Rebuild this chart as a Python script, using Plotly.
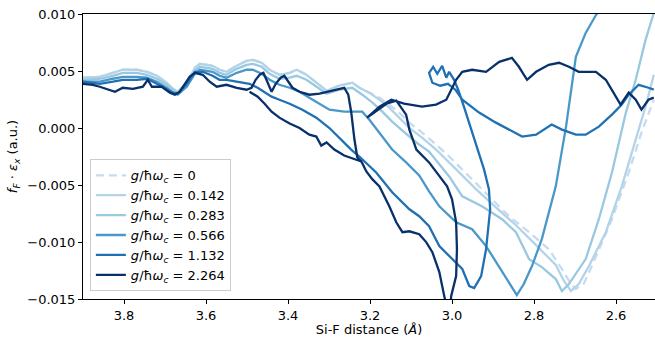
import plotly.graph_objects as go

labels = ["0", "0.142", "0.283", "0.566", "1.132", "2.264"]
colors = ["#c6dbef", "#b3d3e8", "#9ac8e0", "#4a98c9", "#2070b4", "#08306b"]

# g = 0 (dashed)
x_g0 = [3.900, 3.859, 3.827, 3.803, 3.769, 3.744, 3.720, 3.696, 3.681, 3.669, 3.647, 3.627, 3.615, 3.584, 3.567,
        3.550, 3.525, 3.501, 3.486, 3.464, 3.445, 3.421, 3.396, 3.379, 3.355, 3.323, 3.306, 3.275, 3.243, 3.226,
        3.202, 3.177, 3.153, 3.129, 3.104, 3.073, 3.039, 3.007, 2.958, 2.910, 2.861, 2.812, 2.764, 2.732, 2.710,
        2.698, 2.679, 2.659, 2.610, 2.569, 2.538, 2.508]
y_g0 = [0.00442, 0.00450, 0.00484, 0.00512, 0.00512, 0.00494, 0.00458, 0.00397, 0.00344, 0.00318, 0.00397, 0.00528,
        0.00563, 0.00546, 0.00511, 0.00493, 0.00546, 0.00589, 0.00598, 0.00572, 0.00511, 0.00467, 0.00484, 0.00511,
        0.00467, 0.00379, 0.00327, 0.00371, 0.00397, 0.00353, 0.00310, 0.00266, 0.00205, 0.00135, 0.00047, -0.00040,
        -0.00145, -0.00250, -0.00425, -0.00599, -0.00774, -0.00914, -0.01063, -0.01237, -0.01369, -0.01412, -0.01369,
        -0.01211, -0.00800, -0.00390, -0.00040, 0.00248]

# g = 0.142
x_g1 = [3.900, 3.859, 3.827, 3.803, 3.769, 3.744, 3.720, 3.696, 3.681, 3.669, 3.647, 3.627, 3.615, 3.584, 3.567,
        3.550, 3.525, 3.501, 3.486, 3.464, 3.445, 3.421, 3.396, 3.379, 3.355, 3.323, 3.306, 3.275, 3.243, 3.226,
        3.202, 3.177, 3.153, 3.129, 3.104, 3.073, 3.039, 2.990, 2.941, 2.893, 2.844, 2.795, 2.747, 2.727, 2.710,
        2.691, 2.666, 2.625, 2.586, 2.552, 2.528, 2.508]
y_g1 = [0.00441, 0.00449, 0.00484, 0.00511, 0.00511, 0.00493, 0.00458, 0.00397, 0.00344, 0.00318, 0.00397, 0.00528,
        0.00563, 0.00546, 0.00511, 0.00493, 0.00546, 0.00589, 0.00598, 0.00572, 0.00511, 0.00467, 0.00484, 0.00511,
        0.00467, 0.00379, 0.00327, 0.00371, 0.00397, 0.00353, 0.00310, 0.00248, 0.00178, 0.00091, 0.00000, -0.00084,
        -0.00189, -0.00363, -0.00538, -0.00696, -0.00853, -0.01028, -0.01202, -0.01342, -0.01430, -0.01369, -0.01211,
        -0.00914, -0.00512, -0.00101, 0.00187, 0.00467]

# g = 0.283
x_g2 = [3.900, 3.859, 3.827, 3.803, 3.769, 3.744, 3.720, 3.696, 3.681, 3.669, 3.647, 3.627, 3.615, 3.584, 3.567,
        3.550, 3.525, 3.501, 3.486, 3.464, 3.445, 3.421, 3.396, 3.379, 3.355, 3.323, 3.306, 3.275, 3.243, 3.219,
        3.194, 3.170, 3.146, 3.121, 3.087, 3.056, 3.007, 2.975, 2.927, 2.878, 2.844, 2.812, 2.781, 2.747, 2.732,
        2.715, 2.674, 2.642, 2.610, 2.576, 2.552, 2.528, 2.508]
y_g2 = [0.00423, 0.00432, 0.00458, 0.00484, 0.00484, 0.00467, 0.00432, 0.00379, 0.00336, 0.00310, 0.00379, 0.00502,
        0.00537, 0.00519, 0.00484, 0.00467, 0.00519, 0.00554, 0.00563, 0.00537, 0.00476, 0.00432, 0.00441, 0.00458,
        0.00423, 0.00344, 0.00301, 0.00336, 0.00353, 0.00292, 0.00222, 0.00143, 0.00056, -0.00023, -0.00127, -0.00206,
        -0.00425, -0.00599, -0.00687, -0.00800, -0.00914, -0.01150, -0.01220, -0.01325, -0.01430, -0.01369, -0.01150,
        -0.00800, -0.00390, 0.00135, 0.00423, 0.00773, 0.01009]

# g = 0.566
x_g3 = [3.900, 3.859, 3.827, 3.803, 3.769, 3.744, 3.720, 3.696, 3.681, 3.669, 3.647, 3.627, 3.615, 3.584, 3.567,
        3.550, 3.525, 3.501, 3.486, 3.464, 3.445, 3.421, 3.396, 3.372, 3.348, 3.323, 3.299, 3.263, 3.219, 3.202,
        3.177, 3.146, 3.112, 3.080, 3.056, 3.031, 2.990, 2.951, 2.917, 2.878, 2.842, 2.825, 2.805, 2.781, 2.747,
        2.722, 2.698, 2.674, 2.649, 2.630]
y_g3 = [0.00406, 0.00406, 0.00432, 0.00449, 0.00449, 0.00441, 0.00406, 0.00353, 0.00310, 0.00292, 0.00362, 0.00476,
        0.00511, 0.00493, 0.00458, 0.00441, 0.00484, 0.00511, 0.00511, 0.00476, 0.00423, 0.00379, 0.00353, 0.00318,
        0.00266, 0.00213, 0.00161, 0.00143, 0.00143, 0.00074, -0.00040, -0.00189, -0.00302, -0.00416, -0.00556,
        -0.00687, -0.00827, -0.00888, -0.01036, -0.01264, -0.01465, -0.01369, -0.01211, -0.00975, -0.00512, 0.00012,
        0.00624, 0.00834, 0.00991, 0.01079]

# g = 1.132
x_g4 = [3.900, 3.859, 3.827, 3.803, 3.769, 3.744, 3.720, 3.696, 3.681, 3.669, 3.647, 3.627, 3.608, 3.584, 3.567,
        3.550, 3.525, 3.501, 3.494, 3.474, 3.457, 3.440, 3.421, 3.396, 3.365, 3.331, 3.299, 3.267, 3.246, 3.226,
        3.185, 3.146, 3.104, 3.080, 3.056, 3.031, 3.000, 2.975, 2.958,
        2.946, 2.929, 2.917, 2.907, 2.910, 2.922, 2.937, 2.954, 2.971, 2.985, 2.995, 3.007, 3.014, 3.024, 3.036,
        3.046, 3.056, 3.048, 3.029, 3.010, 2.992, 2.975, 2.934, 2.893, 2.861, 2.829, 2.795, 2.757, 2.732, 2.698,
        2.674, 2.642, 2.610, 2.586, 2.569, 2.545, 2.521, 2.508]
y_g4 = [0.00406, 0.00388, 0.00406, 0.00423, 0.00423, 0.00432, 0.00388, 0.00344, 0.00310, 0.00301, 0.00388, 0.00493,
        0.00493, 0.00458, 0.00423, 0.00423, 0.00406, 0.00388, 0.00388, 0.00353, 0.00310, 0.00275, 0.00248, 0.00213,
        0.00161, 0.00091, 0.00000, -0.00119, -0.00189, -0.00250,
        -0.00390, -0.00564, -0.00713, -0.00774, -0.00862, -0.01036, -0.01150, -0.01237, -0.01386, -0.01404, -0.01299,
        -0.01063, -0.00713, -0.00538, -0.00363, -0.00189, 0.00012, 0.00187, 0.00336, 0.00423, 0.00493, 0.00441,
        0.00546, 0.00476, 0.00537, 0.00484, 0.00397, 0.00371, 0.00388, 0.00336, 0.00248, 0.00135, 0.00047, -0.00014,
        -0.00075, -0.00058, 0.00030, -0.00014, -0.00058, -0.00058, 0.00012, 0.00117, 0.00205, 0.00292, 0.00379,
        0.00353, 0.00336]

# g = 2.264 (None separates the visible stretches of the trajectory)
x_g5 = [3.900, 3.876, 3.859, 3.834, 3.822, 3.803, 3.778, 3.754, 3.742, 3.732, 3.708, 3.688, 3.676, 3.664, 3.640,
        3.627, 3.608, 3.591, 3.574, 3.550, 3.525, 3.501, 3.489, 3.479, 3.469, 3.460, 3.450, 3.440, 3.430, 3.418,
        3.409, 3.399, 3.389, 3.372, 3.348, 3.323, 3.292, 3.263, 3.253, 3.246, 3.238, 3.231, 3.221,
        3.209, 3.194, 3.177, 3.153, 3.136, 3.121, 3.104, 3.080, 3.063,
        3.048, 3.031, 3.019, 3.012, 3.005, 3.002, 2.990, 2.988, 2.990, 3.000, 3.012, 3.031, 3.056, 3.087, 3.104,
        3.112, 3.136, 3.160, 3.185, 3.207, 3.177, 3.148, 3.117, 3.073, 3.039, 3.014, 2.990, 2.975,
        2.951, 2.917, 2.885, 2.854, 2.837, 2.817, 2.795, 2.764,
        2.739, 2.715, 2.691, 2.649, 2.625, 2.601, 2.589, 2.569, 2.552, 2.538, 2.521, 2.508,
        None,
        3.494, 3.474, 3.457, 3.440, 3.421, 3.396, 3.372, 3.348, 3.331, 3.319, 3.306, 3.287, 3.263, 3.238, 3.221]
y_g5 = [0.00388, 0.00379, 0.00362, 0.00336, 0.00318, 0.00353, 0.00344, 0.00362, 0.00423, 0.00362, 0.00362, 0.00310,
        0.00292, 0.00318, 0.00449, 0.00484, 0.00467, 0.00406, 0.00362, 0.00379, 0.00353, 0.00336, 0.00353, 0.00423,
        0.00467, 0.00484, 0.00406, 0.00318, 0.00388, 0.00441, 0.00458, 0.00406, 0.00353, 0.00318, 0.00292, 0.00301,
        0.00327, 0.00353, 0.00292, 0.00143, -0.00101, -0.00259, -0.00294,
        -0.00381, -0.00451, -0.00512, -0.00687, -0.00827, -0.00914, -0.00906, -0.00932, -0.01001,
        -0.01089, -0.01264, -0.01473, -0.01587, -0.01587, -0.01473, -0.01299, -0.01063, -0.00827, -0.00626, -0.00512,
        -0.00425, -0.00302, -0.00189, -0.00014, 0.00117, 0.00240, 0.00213, 0.00152, 0.00091, 0.00187, 0.00248, 0.00213,
        0.00187, 0.00205, 0.00248, 0.00423, 0.00493,
        0.00511, 0.00493, 0.00580, 0.00615, 0.00537, 0.00423, 0.00493, 0.00554,
        0.00572, 0.00537, 0.00493, 0.00493, 0.00423, 0.00275, 0.00205, 0.00310, 0.00248, 0.00161, 0.00248, 0.00266,
        None,
        0.00318, 0.00275, 0.00213, 0.00143, 0.00091, 0.00039, 0.00000, -0.00058, -0.00075, -0.00154, -0.00127,
        -0.00189, -0.00241, -0.00276, -0.00294]

xs = [x_g0, x_g1, x_g2, x_g3, x_g4, x_g5]
ys = [y_g0, y_g1, y_g2, y_g3, y_g4, y_g5]

fig = go.Figure()
for i, (xv, yv) in enumerate(zip(xs, ys)):
    fig.add_trace(go.Scatter(
        x=xv, y=yv, mode="lines", connectgaps=False,
        name="<i>g</i>/ħ<i>ω<sub>c</sub></i> = " + labels[i],
        line=dict(color=colors[i], width=2.3, dash="8px,5px" if i == 0 else "solid"),
    ))

font = dict(family="DejaVu Sans", size=13, color="black")
fig.update_layout(
    width=655, height=337,
    margin=dict(l=83, r=0, t=14, b=38),
    plot_bgcolor="white", paper_bgcolor="white",
    font=font,
    showlegend=True,
    legend=dict(
        x=0.012, y=0.49, xanchor="left", yanchor="top",
        bgcolor="rgba(255,255,255,0.85)", bordercolor="#cccccc", borderwidth=1,
        font=dict(family="DejaVu Sans", size=13, color="black"),
        tracegroupgap=0, itemwidth=30,
    ),
)
fig.update_xaxes(
    range=[3.9, 2.505], tickvals=[3.8, 3.6, 3.4, 3.2, 3.0, 2.8, 2.6],
    ticktext=["3.8", "3.6", "3.4", "3.2", "3.0", "2.8", "2.6"],
    ticks="outside", ticklen=4, tickcolor="black",
    showline=True, linecolor="black", linewidth=1, mirror=True,
    showgrid=False, zeroline=False,
    title=dict(text="Si-F distance (<i>Å</i>)", font=font, standoff=1),
)
fig.update_yaxes(
    range=[-0.015, 0.010], tickvals=[0.010, 0.005, 0.0, -0.005, -0.010, -0.015],
    ticktext=["0.010", "0.005", "0.000", "−0.005", "−0.010", "−0.015"],
    ticks="outside", ticklen=4, tickcolor="black",
    showline=True, linecolor="black", linewidth=1, mirror=True,
    showgrid=False, zeroline=False,
    title=dict(text="<i>f<sub>F</sub></i> · <i>ε<sub>x</sub></i> (a.u.)", font=font, standoff=6),
)
fig.write_html("out.html")
